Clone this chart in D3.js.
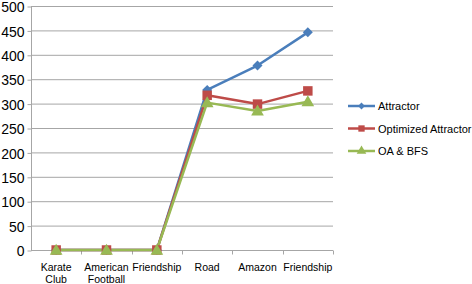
<!DOCTYPE html>
<html>
<head>
<meta charset="utf-8">
<script src="https://cdn.jsdelivr.net/npm/d3@7"></script>
<style>
  body { margin: 0; background: #fff; }
  text { font-family: "Liberation Sans", Arial, sans-serif; fill: #000; }
</style>
</head>
<body>
<div id="chart"></div>
<script>
/**
 * DATA
 * */
const categories = ["Karate Club", "American Football", "Friendship", "Road", "Amazon", "Friendship "];
const catLines = [["Karate", "Club"], ["American", "Football"], ["Friendship"], ["Road"], ["Amazon"], ["Friendship"]];
const attractor = [0, 0, 0, 328, 378, 446];
const optimized = [0, 0, 0, 317, 299, 326];
const oaBfs = [0, 0, 0, 302, 285, 304];
const yTicks = [0, 50, 100, 150, 200, 250, 300, 350, 400, 450, 500];

const width = 472, height = 284,
  margin = { top: 6, bottom: 34, left: 31, right: 139 };

const series = [
  { name: "Attractor", values: attractor, color: "#4a7ebb", shape: "diamond" },
  { name: "Optimized Attractor", values: optimized, color: "#be4b48", shape: "square" },
  { name: "OA & BFS", values: oaBfs, color: "#98b954", shape: "triangle" }
];

const svg = d3.select("#chart").append("svg")
  .attr("width", width)
  .attr("height", height);

const x = d3.scaleBand()
  .domain(categories)
  .range([margin.left, width - margin.right]);

const y = d3.scaleLinear()
  .domain([0, 500])
  .range([height - margin.bottom, margin.top]);

// gridlines
svg.append("g")
  .selectAll("line")
  .data(yTicks.slice(1))
  .join("line")
  .attr("x1", margin.left)
  .attr("x2", width - margin.right)
  .attr("y1", d => y(d) + 0.5)
  .attr("y2", d => y(d) + 0.5)
  .attr("stroke", "#a6a6a6")
  .attr("stroke-width", 1);

// y axis
const yAxis = svg.append("g")
  .attr("transform", `translate(${margin.left + 0.5},0.5)`)
  .call(d3.axisLeft(y).tickValues(yTicks).tickSize(4).tickPadding(4));
yAxis.select(".domain").attr("stroke", "#a6a6a6").attr("d", `M0,${y(500)}V${y(0)}`);
yAxis.selectAll(".tick line").attr("stroke", "#a6a6a6");
yAxis.selectAll(".tick text")
  .attr("font-size", 14)
  .attr("font-family", "Liberation Sans, Arial, sans-serif")
  .attr("fill", "#000")
  .attr("dy", "0.37em")
  .attr("x", -7);

// x axis
const xAxisG = svg.append("g")
  .attr("transform", `translate(0,${y(0) + 0.5})`);
xAxisG.append("line")
  .attr("x1", margin.left)
  .attr("x2", width - margin.right)
  .attr("stroke", "#a6a6a6");
xAxisG.selectAll(".xtick")
  .data(categories)
  .join("line")
  .attr("class", "xtick")
  .attr("x1", d => Math.round(x(d) + x.bandwidth()) + 0.5)
  .attr("x2", d => Math.round(x(d) + x.bandwidth()) + 0.5)
  .attr("y1", 0)
  .attr("y2", 4)
  .attr("stroke", "#a6a6a6");

const xLabels = xAxisG.selectAll(".xlabel")
  .data(categories)
  .join("text")
  .attr("class", "xlabel")
  .attr("text-anchor", "middle")
  .attr("font-size", 10.5)
  .attr("x", d => x(d) + x.bandwidth() / 2)
  .attr("y", 20);
xLabels.each(function (d, i) {
  d3.select(this).selectAll("tspan")
    .data(catLines[i])
    .join("tspan")
    .attr("x", x(d) + x.bandwidth() / 2)
    .attr("dy", (t, j) => j === 0 ? 0 : 12.5)
    .text(t => t);
});

// lines
const line = d3.line()
  .x((d, i) => x(categories[i]) + x.bandwidth() / 2)
  .y(d => y(d));

const symbols = {
  diamond: d3.symbol().type(d3.symbolDiamond2).size(64),
  square: d3.symbol().type(d3.symbolSquare).size(90),
  triangle: d3.symbol().type(d3.symbolTriangle).size(70)
};

series.forEach(s => {
  svg.append("path")
    .datum(s.values)
    .attr("fill", "none")
    .attr("stroke", s.color)
    .attr("stroke-width", 2.5)
    .attr("stroke-linejoin", "round")
    .attr("d", line);
});

series.forEach(s => {
  svg.append("g")
    .selectAll("path")
    .data(s.values)
    .join("path")
    .attr("transform", (d, i) => `translate(${x(categories[i]) + x.bandwidth() / 2},${y(d) + (s.shape === "triangle" ? 1 : 0)})`)
    .attr("d", symbols[s.shape])
    .attr("fill", s.color);
});

// legend
const legend = svg.append("g")
  .attr("transform", "translate(348,106)");
const rows = legend.selectAll("g")
  .data(series)
  .join("g")
  .attr("transform", (d, i) => `translate(0,${i * 22.5})`);
rows.append("line")
  .attr("x1", 0)
  .attr("x2", 27)
  .attr("stroke", d => d.color)
  .attr("stroke-width", 2.5);
rows.append("path")
  .attr("transform", "translate(13.5,0)")
  .attr("d", d => d3.symbol().type(
      d.shape === "diamond" ? d3.symbolDiamond2 : d.shape === "square" ? d3.symbolSquare : d3.symbolTriangle
    ).size(d.shape === "diamond" ? 30 : 40)())
  .attr("fill", d => d.color);
rows.append("text")
  .attr("x", 30)
  .attr("y", 4)
  .attr("font-size", 11)
  .text(d => d.name);
</script>
</body>
</html>
